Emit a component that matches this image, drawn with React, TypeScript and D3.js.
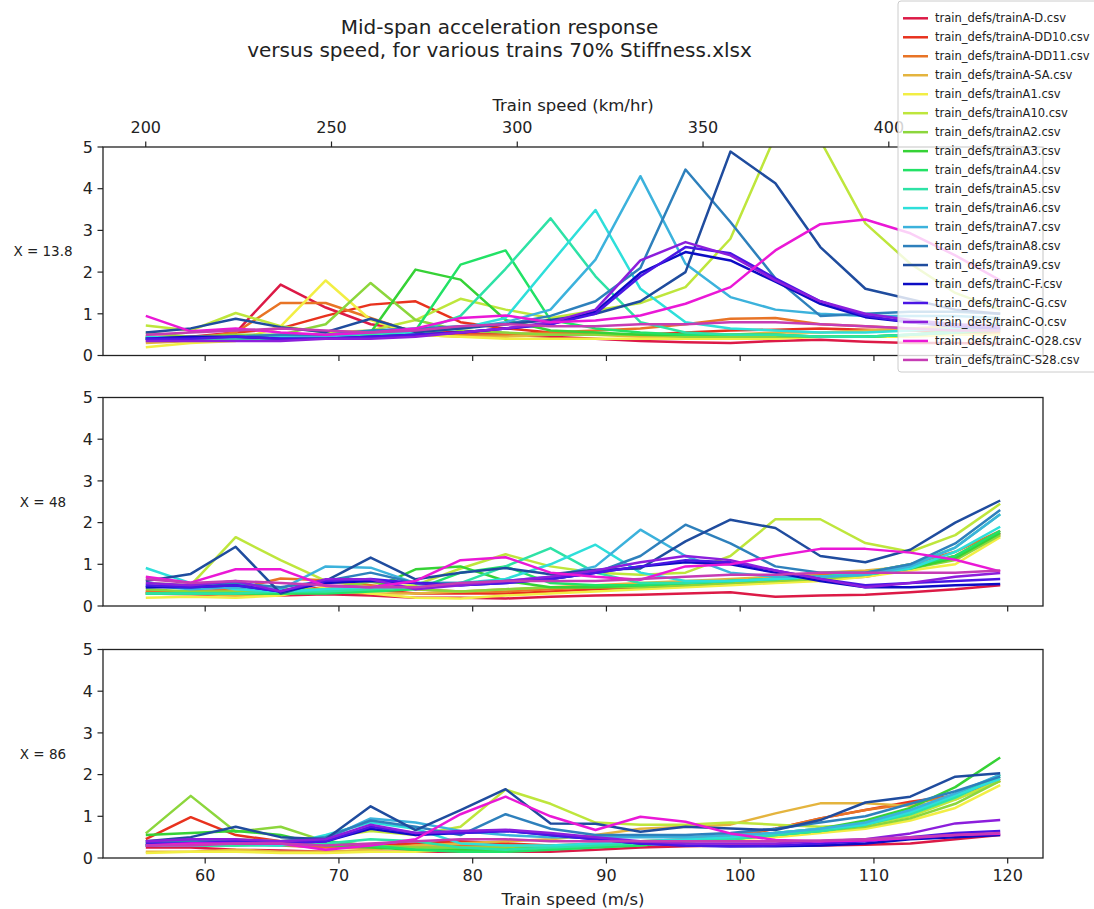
import React from 'react';
import * as d3 from 'd3';

const W = 1094;
const H = 909;

// Train speeds (m/s) for every sample, 200 to 430 km/hr
const speedsMs = [55.56, 58.92, 62.28, 65.64, 69.01, 72.37, 75.73, 79.09, 82.46, 85.82,
  89.18, 92.54, 95.91, 99.27, 102.63, 105.99, 109.36, 112.72, 116.08, 119.44];

const trainNames = [
  'train_defs/trainA-D.csv', 'train_defs/trainA-DD10.csv', 'train_defs/trainA-DD11.csv',
  'train_defs/trainA-SA.csv', 'train_defs/trainA1.csv', 'train_defs/trainA10.csv',
  'train_defs/trainA2.csv', 'train_defs/trainA3.csv', 'train_defs/trainA4.csv',
  'train_defs/trainA5.csv', 'train_defs/trainA6.csv', 'train_defs/trainA7.csv',
  'train_defs/trainA8.csv', 'train_defs/trainA9.csv', 'train_defs/trainC-F.csv',
  'train_defs/trainC-G.csv', 'train_defs/trainC-O.csv', 'train_defs/trainC-O28.csv',
  'train_defs/trainC-S28.csv',
];

const lineColors = [
  '#dc1a46', '#e8321e', '#e87426', '#e4b43e', '#f2ee44', '#bee63c', '#8cd63c',
  '#36d236', '#22e266', '#2ee2a6', '#2edfda', '#3cb2dc', '#2e80bc', '#1f4c9e',
  '#0c0cc4', '#4a16e4', '#8c1edc', '#ea18d6', '#c63cb4',
];

const yTicks = [0, 1, 2, 3, 4, 5];
const xTicksMs = [60, 70, 80, 90, 100, 110, 120];
const xTicksKmh = [200, 250, 300, 350, 400];
const panelLabels = ['X = 13.8', 'X = 48', 'X = 86'];

// Mid-span acceleration at X = 13.8, one row per train
const accelX138: number[][] = [
  [0.45, 0.45, 0.55, 1.70, 1.15, 0.75, 0.60, 0.55, 0.50, 0.45, 0.40, 0.35, 0.32, 0.30, 0.35, 0.38, 0.33, 0.30, 0.30, 0.28],
  [0.35, 0.40, 0.55, 0.65, 0.95, 1.22, 1.30, 0.80, 0.65, 0.55, 0.50, 0.50, 0.55, 0.60, 0.62, 0.65, 0.62, 0.60, 0.55, 0.50],
  [0.40, 0.40, 0.55, 1.26, 1.26, 0.90, 0.55, 0.50, 0.50, 0.55, 0.60, 0.65, 0.75, 0.88, 0.90, 0.75, 0.70, 0.65, 0.60, 0.55],
  [0.30, 0.35, 0.40, 0.45, 0.40, 0.45, 0.50, 0.45, 0.45, 0.50, 0.50, 0.45, 0.45, 0.50, 0.55, 0.55, 0.60, 0.65, 0.70, 0.75],
  [0.20, 0.30, 0.35, 0.70, 1.80, 0.85, 0.50, 0.45, 0.40, 0.40, 0.40, 0.40, 0.40, 0.40, 0.40, 0.45, 0.45, 0.45, 0.50, 0.50],
  [0.72, 0.60, 1.02, 0.70, 0.55, 0.60, 0.85, 1.36, 1.10, 0.90, 1.08, 1.26, 1.64, 2.80, 5.27, 5.16, 3.17, 2.20, 1.50, 1.10],
  [0.55, 0.45, 0.50, 0.50, 0.75, 1.74, 0.85, 0.60, 0.55, 0.50, 0.50, 0.50, 0.45, 0.45, 0.45, 0.45, 0.45, 0.50, 0.55, 0.60],
  [0.45, 0.40, 0.40, 0.40, 0.45, 0.55, 2.06, 1.82, 0.85, 0.60, 0.55, 0.50, 0.50, 0.50, 0.50, 0.45, 0.45, 0.50, 0.55, 0.60],
  [0.40, 0.40, 0.40, 0.45, 0.45, 0.50, 0.60, 2.18, 2.52, 0.85, 0.65, 0.55, 0.50, 0.50, 0.50, 0.45, 0.45, 0.50, 0.60, 0.70],
  [0.40, 0.40, 0.40, 0.40, 0.45, 0.50, 0.55, 0.95, 2.08, 3.29, 1.90, 0.80, 0.55, 0.50, 0.50, 0.45, 0.45, 0.50, 0.55, 0.65],
  [0.45, 0.40, 0.45, 0.45, 0.50, 0.55, 0.55, 0.65, 0.90, 2.20, 3.49, 1.60, 0.80, 0.65, 0.60, 0.55, 0.55, 0.60, 0.65, 0.75],
  [0.40, 0.40, 0.45, 0.50, 0.45, 0.55, 0.60, 0.65, 0.80, 1.10, 2.30, 4.30, 2.20, 1.40, 1.10, 1.00, 0.95, 0.95, 0.95, 0.90],
  [0.40, 0.40, 0.45, 0.50, 0.50, 0.60, 0.65, 0.70, 0.75, 0.95, 1.30, 2.10, 4.46, 3.20, 1.85, 0.95, 1.00, 1.05, 1.05, 1.00],
  [0.55, 0.65, 0.88, 0.68, 0.56, 0.88, 0.56, 0.65, 0.75, 0.85, 1.00, 1.30, 2.00, 4.89, 4.13, 2.60, 1.60, 1.35, 1.10, 1.00],
  [0.40, 0.45, 0.45, 0.40, 0.40, 0.45, 0.50, 0.55, 0.65, 0.75, 1.05, 1.98, 2.48, 2.28, 1.77, 1.24, 0.92, 0.80, 0.70, 0.65],
  [0.40, 0.40, 0.45, 0.40, 0.40, 0.45, 0.50, 0.55, 0.65, 0.75, 1.00, 1.90, 2.60, 2.45, 1.85, 1.30, 0.95, 0.80, 0.70, 0.65],
  [0.35, 0.35, 0.35, 0.35, 0.40, 0.40, 0.45, 0.55, 0.65, 0.80, 1.10, 2.28, 2.72, 2.40, 1.80, 1.30, 1.00, 0.85, 0.75, 0.70],
  [0.95, 0.58, 0.65, 0.55, 0.50, 0.55, 0.65, 0.90, 0.96, 0.80, 0.84, 0.96, 1.24, 1.64, 2.52, 3.15, 3.26, 2.93, 2.40, 1.80],
  [0.50, 0.55, 0.60, 0.65, 0.60, 0.55, 0.60, 0.70, 0.75, 0.70, 0.70, 0.75, 0.75, 0.80, 0.80, 0.75, 0.70, 0.65, 0.60, 0.60],
];

// Mid-span acceleration at X = 48
const accelX48: number[][] = [
  [0.30, 0.28, 0.25, 0.25, 0.28, 0.25, 0.20, 0.20, 0.18, 0.22, 0.25, 0.27, 0.30, 0.33, 0.22, 0.25, 0.27, 0.33, 0.40, 0.50],
  [0.35, 0.30, 0.30, 0.35, 0.45, 0.40, 0.30, 0.30, 0.30, 0.35, 0.40, 0.45, 0.50, 0.55, 0.60, 0.65, 0.70, 0.90, 1.20, 1.75],
  [0.35, 0.35, 0.40, 0.66, 0.62, 0.50, 0.40, 0.35, 0.35, 0.40, 0.45, 0.50, 0.55, 0.60, 0.70, 0.75, 0.80, 1.00, 1.30, 1.80],
  [0.30, 0.30, 0.25, 0.30, 0.35, 0.30, 0.30, 0.35, 0.40, 0.45, 0.50, 0.55, 0.60, 0.65, 0.70, 0.80, 0.85, 0.95, 1.20, 1.70],
  [0.20, 0.22, 0.20, 0.25, 0.45, 0.30, 0.20, 0.18, 0.25, 0.30, 0.35, 0.40, 0.45, 0.50, 0.55, 0.60, 0.70, 0.85, 1.00, 1.65],
  [0.55, 0.50, 1.65, 1.10, 0.60, 0.45, 0.50, 0.90, 1.24, 0.95, 0.80, 0.75, 0.80, 1.20, 2.08, 2.08, 1.51, 1.30, 1.70, 2.45],
  [0.40, 0.35, 0.35, 0.40, 0.40, 0.58, 0.40, 0.35, 0.40, 0.45, 0.45, 0.45, 0.50, 0.55, 0.60, 0.65, 0.75, 0.90, 1.10, 1.70],
  [0.30, 0.30, 0.30, 0.30, 0.35, 0.40, 0.88, 0.95, 0.60, 0.45, 0.45, 0.50, 0.55, 0.60, 0.65, 0.70, 0.75, 0.90, 1.15, 1.75],
  [0.30, 0.30, 0.30, 0.30, 0.30, 0.35, 0.40, 0.80, 0.95, 0.55, 0.50, 0.50, 0.55, 0.60, 0.65, 0.70, 0.80, 0.95, 1.20, 1.80],
  [0.30, 0.30, 0.30, 0.35, 0.35, 0.40, 0.45, 0.55, 0.95, 1.39, 0.80, 0.55, 0.55, 0.60, 0.65, 0.70, 0.80, 1.00, 1.40, 2.20],
  [0.91, 0.55, 0.40, 0.35, 0.40, 0.45, 0.45, 0.55, 0.65, 1.00, 1.47, 0.80, 0.60, 0.60, 0.65, 0.70, 0.75, 0.90, 1.30, 1.90],
  [0.50, 0.40, 0.45, 0.40, 0.95, 0.92, 0.55, 0.55, 0.60, 0.70, 0.95, 1.83, 1.20, 0.80, 0.70, 0.70, 0.75, 0.95, 1.40, 2.20],
  [0.45, 0.50, 0.55, 0.45, 0.60, 0.80, 0.55, 0.55, 0.60, 0.65, 0.80, 1.20, 1.95, 1.50, 0.95, 0.80, 0.80, 1.00, 1.50, 2.30],
  [0.60, 0.77, 1.42, 0.30, 0.60, 1.16, 0.64, 0.80, 0.91, 0.76, 0.87, 0.90, 1.55, 2.07, 1.87, 1.20, 1.05, 1.35, 2.00, 2.53],
  [0.45, 0.45, 0.50, 0.35, 0.55, 0.60, 0.55, 0.50, 0.55, 0.65, 0.80, 0.95, 1.05, 1.00, 0.80, 0.60, 0.45, 0.45, 0.50, 0.53],
  [0.50, 0.45, 0.50, 0.35, 0.60, 0.65, 0.55, 0.50, 0.55, 0.65, 0.80, 0.95, 1.10, 1.05, 0.85, 0.65, 0.50, 0.55, 0.60, 0.65],
  [0.55, 0.50, 0.60, 0.35, 0.64, 0.64, 0.40, 0.50, 0.60, 0.70, 0.85, 1.05, 1.20, 1.10, 0.85, 0.65, 0.45, 0.55, 0.70, 0.79],
  [0.70, 0.56, 0.88, 0.88, 0.48, 0.45, 0.60, 1.10, 1.17, 0.80, 0.70, 0.63, 0.95, 1.00, 1.20, 1.37, 1.37, 1.28, 1.11, 0.83],
  [0.65, 0.55, 0.60, 0.55, 0.50, 0.45, 0.45, 0.55, 0.60, 0.60, 0.60, 0.65, 0.70, 0.75, 0.75, 0.80, 0.80, 0.80, 0.80, 0.85],
];

// Mid-span acceleration at X = 86
const accelX86: number[][] = [
  [0.25, 0.25, 0.20, 0.18, 0.15, 0.15, 0.15, 0.15, 0.15, 0.15, 0.20, 0.25, 0.28, 0.30, 0.30, 0.30, 0.32, 0.35, 0.45, 0.55],
  [0.45, 0.98, 0.55, 0.40, 0.30, 0.30, 0.35, 0.40, 0.35, 0.30, 0.30, 0.35, 0.40, 0.50, 0.70, 0.95, 1.15, 1.35, 1.50, 1.90],
  [0.30, 0.30, 0.35, 0.30, 0.25, 0.25, 0.30, 0.30, 0.30, 0.30, 0.35, 0.40, 0.45, 0.55, 0.70, 0.95, 1.15, 1.30, 1.50, 1.85],
  [0.15, 0.15, 0.20, 0.15, 0.15, 0.20, 0.30, 0.35, 0.40, 0.45, 0.55, 0.70, 0.75, 0.80, 1.07, 1.31, 1.31, 1.25, 1.40, 1.85],
  [0.12, 0.15, 0.15, 0.12, 0.12, 0.15, 0.15, 0.20, 0.20, 0.25, 0.30, 0.35, 0.40, 0.45, 0.50, 0.60, 0.70, 0.90, 1.20, 1.75],
  [0.35, 0.40, 0.45, 0.40, 0.50, 0.65, 0.55, 0.75, 1.64, 1.30, 0.85, 0.80, 0.80, 0.85, 0.80, 0.75, 0.80, 1.00, 1.40, 1.85],
  [0.59, 1.49, 0.63, 0.75, 0.40, 0.30, 0.25, 0.25, 0.25, 0.25, 0.30, 0.35, 0.40, 0.45, 0.55, 0.65, 0.75, 0.95, 1.30, 1.85],
  [0.55, 0.60, 0.65, 0.55, 0.30, 0.25, 0.20, 0.20, 0.20, 0.25, 0.30, 0.35, 0.40, 0.50, 0.60, 0.70, 0.90, 1.20, 1.70, 2.41],
  [0.30, 0.30, 0.30, 0.35, 0.40, 0.30, 0.20, 0.15, 0.15, 0.20, 0.25, 0.30, 0.40, 0.45, 0.55, 0.65, 0.80, 1.10, 1.50, 2.00],
  [0.30, 0.30, 0.30, 0.30, 0.35, 0.45, 0.40, 0.25, 0.20, 0.25, 0.30, 0.35, 0.40, 0.45, 0.55, 0.65, 0.80, 1.05, 1.45, 1.95],
  [0.30, 0.30, 0.35, 0.30, 0.55, 0.85, 0.70, 0.35, 0.30, 0.30, 0.35, 0.40, 0.45, 0.50, 0.60, 0.70, 0.80, 1.10, 1.50, 1.90],
  [0.35, 0.35, 0.35, 0.35, 0.45, 0.95, 0.85, 0.65, 0.55, 0.50, 0.50, 0.50, 0.50, 0.55, 0.60, 0.70, 0.85, 1.15, 1.55, 2.00],
  [0.40, 0.40, 0.40, 0.40, 0.50, 0.90, 0.75, 0.55, 1.05, 0.70, 0.55, 0.55, 0.55, 0.60, 0.70, 0.85, 1.00, 1.30, 1.60, 1.95],
  [0.40, 0.50, 0.75, 0.50, 0.45, 1.24, 0.67, 1.15, 1.65, 0.83, 0.82, 0.63, 0.75, 0.71, 0.67, 0.91, 1.33, 1.47, 1.95, 2.03],
  [0.30, 0.35, 0.35, 0.35, 0.40, 0.70, 0.55, 0.60, 0.65, 0.55, 0.45, 0.35, 0.30, 0.28, 0.28, 0.30, 0.35, 0.45, 0.50, 0.55],
  [0.35, 0.35, 0.40, 0.35, 0.40, 0.75, 0.60, 0.60, 0.65, 0.55, 0.45, 0.35, 0.30, 0.28, 0.30, 0.35, 0.40, 0.50, 0.60, 0.65],
  [0.40, 0.45, 0.45, 0.40, 0.45, 0.80, 0.60, 0.65, 0.68, 0.60, 0.50, 0.40, 0.35, 0.35, 0.35, 0.40, 0.45, 0.59, 0.83, 0.91],
  [0.30, 0.35, 0.35, 0.35, 0.20, 0.30, 0.45, 1.05, 1.47, 1.00, 0.67, 0.99, 0.87, 0.59, 0.43, 0.40, 0.42, 0.48, 0.55, 0.58],
  [0.30, 0.30, 0.35, 0.35, 0.30, 0.35, 0.40, 0.45, 0.45, 0.40, 0.40, 0.40, 0.40, 0.40, 0.40, 0.42, 0.45, 0.50, 0.55, 0.60],
];

const panelData = [accelX138, accelX48, accelX86];

// Layout of the three stacked axes
const axLeft = 103;
const axRight = 1043;
const panelTops = [147, 397.5, 649.5];
const panelHeight = 208.5;
const tickLen = 5.5;
const lineWidth = 2.5;
const font = 'DejaVu Sans';

export default function App() {
  const x = d3.scaleLinear().domain([52.36, 122.64]).range([axLeft, axRight]);
  const kmhToMs = (v: number) => v / 3.6;

  const legendX = 898;
  const legendTop = 1;
  const rowStep = 18.98;
  const firstRow = 18.3;

  return (
    <svg
      width={W}
      height={H}
      viewBox={`0 0 ${W} ${H}`}
      style={{ position: 'absolute', left: 0, top: 0, background: '#fff' }}
      fontFamily={font}
    >
      <rect x={0} y={0} width={W} height={H} fill="#fff" />

      <text x={499.5} y={33.5} textAnchor="middle" fontSize={20} fill="#222">
        Mid-span acceleration response
      </text>
      <text x={499.5} y={57} textAnchor="middle" fontSize={20} fill="#222">
        versus speed, for various trains 70% Stiffness.xlsx
      </text>

      {panelData.map((series, p) => {
        const top = panelTops[p];
        const bottom = top + panelHeight;
        const y = d3.scaleLinear().domain([0, 5]).range([bottom, top]);
        const line = d3
          .line<number>()
          .x((_, i) => x(speedsMs[i]))
          .y((v) => y(v));
        const clipId = `panel-clip-${p}`;
        return (
          <g key={p}>
            <defs>
              <clipPath id={clipId}>
                <rect x={axLeft} y={top} width={axRight - axLeft} height={panelHeight} />
              </clipPath>
            </defs>
            <g clipPath={`url(#${clipId})`}>
              {series.map((vals, k) => (
                <path
                  key={k}
                  d={line(vals) || ''}
                  fill="none"
                  stroke={lineColors[k]}
                  strokeWidth={lineWidth}
                  strokeLinejoin="round"
                />
              ))}
            </g>
            <rect
              x={axLeft}
              y={top}
              width={axRight - axLeft}
              height={panelHeight}
              fill="none"
              stroke="#222"
              strokeWidth={1.3}
            />
            {yTicks.map((t) => (
              <g key={`y${t}`}>
                <line x1={axLeft - tickLen} x2={axLeft} y1={y(t)} y2={y(t)} stroke="#222" strokeWidth={1.2} />
                <text x={axLeft - 10} y={y(t)} dy="0.36em" textAnchor="end" fontSize={16} fill="#222">
                  {t}
                </text>
              </g>
            ))}
            {xTicksMs.map((t) => (
              <g key={`x${t}`}>
                <line x1={x(t)} x2={x(t)} y1={bottom} y2={bottom + tickLen} stroke="#222" strokeWidth={1.2} />
                {p === 2 && (
                  <text x={x(t)} y={880.5} textAnchor="middle" fontSize={16} fill="#222">
                    {t}
                  </text>
                )}
              </g>
            ))}
            {p === 0 &&
              xTicksKmh.map((t) => (
                <g key={`k${t}`}>
                  <line
                    x1={x(kmhToMs(t))}
                    x2={x(kmhToMs(t))}
                    y1={top - tickLen}
                    y2={top}
                    stroke="#222"
                    strokeWidth={1.2}
                  />
                  <text x={x(kmhToMs(t))} y={133} textAnchor="middle" fontSize={16} fill="#222">
                    {t}
                  </text>
                </g>
              ))}
            <text
              x={43}
              y={(top + bottom) / 2}
              dy="0.36em"
              textAnchor="middle"
              fontSize={13.5}
              fill="#222"
            >
              {panelLabels[p]}
            </text>
          </g>
        );
      })}

      <text x={(axLeft + axRight) / 2} y={111} textAnchor="middle" fontSize={16.5} fill="#222">
        Train speed (km/hr)
      </text>
      <text x={(axLeft + axRight) / 2} y={905} textAnchor="middle" fontSize={16.5} fill="#222">
        Train speed (m/s)
      </text>

      <g>
        <rect
          x={legendX}
          y={legendTop}
          width={220}
          height={371}
          rx={3}
          fill="#fff"
          fillOpacity={0.8}
          stroke="#cccccc"
          strokeWidth={1}
        />
        {trainNames.map((name, k) => {
          const cy = firstRow + k * rowStep;
          return (
            <g key={name}>
              <line x1={903} x2={928} y1={cy} y2={cy} stroke={lineColors[k]} strokeWidth={lineWidth} />
              <text x={935} y={cy} dy="0.36em" fontSize={11.5} fill="#222">
                {name}
              </text>
            </g>
          );
        })}
      </g>
    </svg>
  );
}
